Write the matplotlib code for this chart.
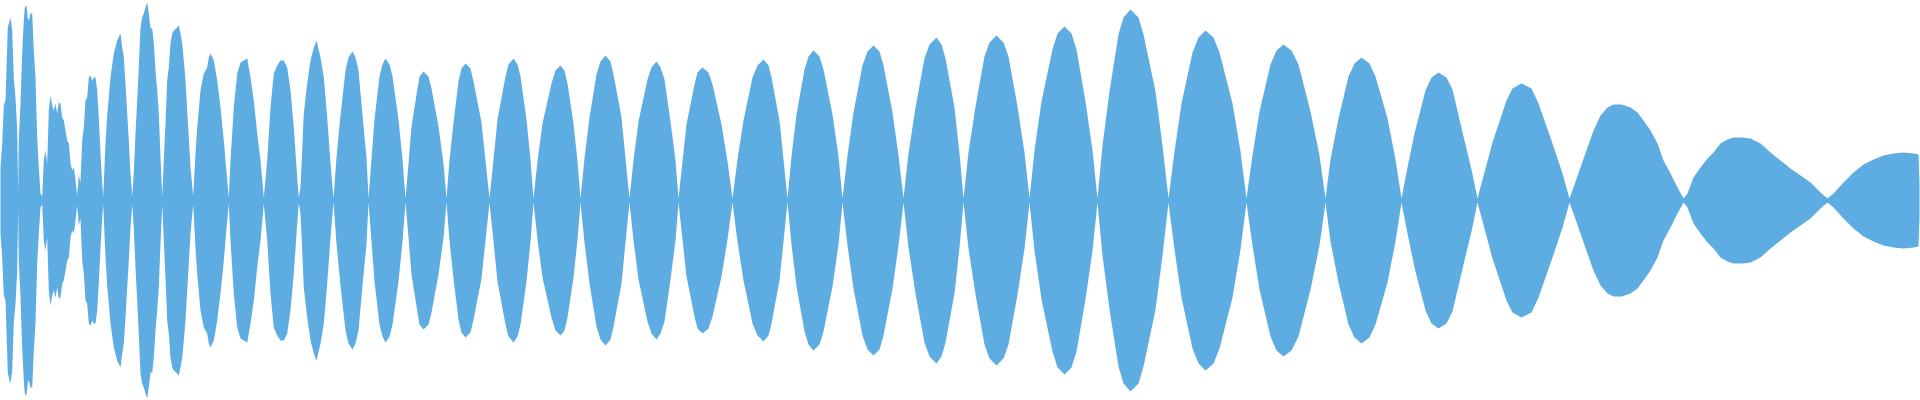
import numpy as np
import matplotlib
matplotlib.use('Agg')
import matplotlib.pyplot as plt

# 波形の包絡線（振幅 0..200、上下対称）
# 冒頭のノイズ部分
t_onset = [0, 1.7, 3.3, 5, 6.7, 7.3, 10, 11.7, 13.3, 15, 16.7, 17.7,
           18.3, 20, 21.7, 23.3, 24.3, 26, 27.3, 28.3, 30, 31.7, 33.3, 35, 36.7, 38.3, 40, 41.7,
           43.3, 45, 46.7, 48.3, 50, 51.7, 53.3, 55, 56.7, 58.3, 60, 61.7, 63.3, 65, 66.7, 68.3, 70, 71.7, 73.3, 75, 76.7,
           78.3, 80, 81.7, 83.3, 85, 86.7, 88.3, 90, 91.7, 93.3, 95, 96.7, 98.3, 100, 101.7, 102.7,
           105, 106.7, 110, 113.3, 116.7, 120, 121.7, 123.3, 125, 126.7, 128.3, 130, 131.7,
           133.3, 135, 136.7, 138.3, 140, 141.7, 143.3, 145, 146.7, 148.3, 150, 151.7, 153.3, 155, 156.7, 158.3, 160, 161.7,
           163.3, 165, 166.7, 168.3, 170, 171.7, 173.3, 176.7, 178.3, 180, 181.7, 183.3, 185, 186.7, 188.3, 190, 192.7,
           195, 196.7, 200, 203.3, 206.7, 208.3, 210, 213.3, 216.7, 220, 223.3, 226.7, 228.3,
           230, 233.3, 236.7, 240, 243.3, 246.7, 250, 253.3, 256.7, 260, 263.3,
           266.7, 270, 273.3, 276.7, 280, 283.3, 286.7, 290, 293.3, 296.7, 298.3,
           300, 303.3, 306.7, 310, 313.3, 316, 318.3, 320, 323.3, 326.7, 330, 333]
level_onset = [33, 57, 95, 100, 153, 173, 183, 170, 122, 103, 70, 8,
               60, 97, 147, 180, 193, 195, 182, 180, 187, 187, 150, 122, 63, 33, 7, 4,
               40, 50, 37, 90, 105, 95, 90, 97, 87, 98, 97, 83, 80, 70, 60, 57, 37, 30, 33, 20, 5,
               25, 18, 60, 73, 100, 103, 123, 125, 120, 123, 123, 110, 83, 47, 17, 4,
               57, 85, 123, 147, 160, 167, 153, 143, 117, 87, 60, 27, 4,
               27, 67, 100, 133, 173, 183, 187, 193, 198, 187, 172, 172, 157, 130, 110, 87, 43, 4,
               40, 77, 120, 133, 157, 167, 170, 173, 175, 167, 157, 140, 120, 90, 63, 33, 4,
               47, 73, 110, 127, 133, 143, 147, 140, 120, 93, 60, 20, 3,
               40, 93, 127, 138, 140, 142, 123, 100, 67, 40, 3,
               40, 93, 127, 135, 140, 140, 133, 110, 73, 23, 3,
               13, 87, 117, 140, 153, 160, 150, 143, 123, 83, 37, 2]

# 本体（なめらかな山）
t_body = [336, 340, 345, 348, 352, 355, 358, 362, 366, 368,
          371, 374, 379, 382, 385, 389, 392, 398, 402, 405,
          408, 411, 417, 419, 423, 428, 431, 438, 443, 446,
          449, 453, 458, 461, 465, 470, 473, 481, 485, 489,
          493, 497, 505, 508, 513, 517, 520, 526, 530, 533,
          537, 542, 551, 555, 560, 564, 567, 573, 577, 580,
          584, 589, 596, 600, 605, 610, 613, 621, 625, 629,
          633, 638, 647, 651, 656, 660, 664, 670, 675, 678,
          682, 686, 694, 697, 702, 708, 712, 721, 727, 732,
          737, 743, 752, 757, 763, 768, 771, 779, 783, 787,
          791, 796, 804, 808, 813, 819, 823, 832, 838, 842,
          847, 853, 862, 867, 873, 879, 883, 892, 898, 903,
          908, 915, 924, 929, 936, 941, 945, 954, 959, 963,
          968, 975, 984, 989, 996, 1003, 1008, 1017, 1024, 1029,
          1034, 1041, 1052, 1057, 1064, 1071, 1076, 1085, 1092, 1097,
          1102, 1109, 1118, 1123, 1130, 1138, 1143, 1155, 1162, 1168,
          1174, 1181, 1192, 1198, 1205, 1213, 1219, 1232, 1240, 1246,
          1252, 1259, 1270, 1276, 1283, 1291, 1298, 1310, 1319, 1325,
          1330, 1338, 1348, 1354, 1361, 1369, 1375, 1387, 1395, 1401,
          1407, 1414, 1425, 1431, 1438, 1446, 1452, 1463, 1471, 1477,
          1484, 1492, 1506, 1512, 1521, 1531, 1538, 1552, 1562, 1569,
          1573, 1580, 1587, 1593, 1600, 1607, 1613, 1621, 1630, 1637, 1643, 1650, 1657, 1663, 1670, 1677, 1683,
          1687, 1693, 1700, 1707, 1713, 1720, 1727, 1733, 1742, 1750, 1760, 1770, 1780, 1790, 1800, 1810, 1820, 1827,
          1833, 1843, 1853, 1863, 1873, 1883, 1893, 1903, 1913, 1918, 1919]
level_body = [43, 85, 130, 143, 149, 143, 130, 85, 43, 2,
              41, 81, 124, 136, 142, 136, 124, 81, 41, 2,
              37, 74, 112, 124, 129, 124, 112, 74, 37, 2,
              40, 78, 119, 132, 137, 132, 119, 78, 40, 2,
              41, 81, 124, 136, 142, 136, 124, 81, 41, 2,
              39, 77, 117, 130, 135, 130, 117, 77, 39, 2,
              42, 83, 126, 139, 145, 139, 126, 83, 42, 2,
              40, 79, 121, 133, 139, 133, 121, 79, 40, 2,
              39, 76, 116, 128, 133, 128, 116, 76, 39, 2,
              41, 80, 123, 135, 141, 135, 123, 80, 41, 2,
              44, 86, 131, 144, 150, 144, 131, 86, 44, 2,
              45, 88, 135, 149, 155, 149, 135, 88, 45, 2,
              47, 93, 142, 156, 163, 156, 142, 93, 47, 2,
              48, 94, 144, 158, 165, 158, 144, 94, 48, 2,
              50, 99, 151, 167, 174, 167, 151, 99, 50, 2,
              55, 109, 166, 183, 191, 183, 166, 109, 55, 2,
              49, 97, 148, 163, 170, 163, 148, 97, 49, 2,
              45, 89, 136, 150, 156, 150, 136, 89, 45, 2,
              41, 82, 124, 137, 143, 137, 124, 82, 41, 2,
              33, 67, 110, 123, 128, 123, 111, 64, 31, 2,
              28, 58, 100, 112, 117, 112, 97, 57, 27, 2,
              13, 33, 53, 70, 85, 93, 96, 96, 93, 88, 80, 70, 57, 40, 27, 13, 2,
              7, 23, 33, 42, 48, 57, 61, 63, 63, 62, 57, 48, 40, 32, 25, 18, 8, 2,
              7, 18, 28, 36, 41, 45, 47, 48, 47, 46, 17]

t = np.array(t_onset + t_body)
level = np.array(level_onset + level_body)

fig = plt.figure(figsize=(19.2, 4), dpi=100)
ax = fig.add_axes([0, 0, 1, 1])
ax.fill_between(t, -level, level, color='#5DACE2', linewidth=0)
ax.set_xlim(0, 1920)
ax.set_ylim(-200, 200)
ax.axis('off')

plt.savefig('out.png', dpi=100)
